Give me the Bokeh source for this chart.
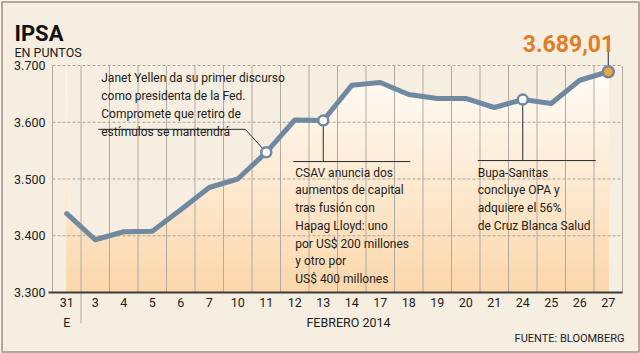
import numpy as np
from bokeh.plotting import figure
from bokeh.models import Range1d, FixedTicker, Label
from bokeh.core.properties import value
from bokeh.embed import file_html
from bokeh.resources import INLINE

# ---------------- data ----------------
DAYS = ["31", "3", "4", "5", "6", "7", "10", "11", "12", "13",
        "14", "17", "18", "19", "20", "21", "24", "25", "26", "27"]
IPSA = [3439, 3393, 3407, 3408, 3446, 3485, 3500, 3547, 3604, 3603,
        3665, 3670, 3649, 3642, 3642, 3626, 3640, 3633, 3674, 3689.01]
Y_TICKS = [3300, 3400, 3500, 3600, 3700]
Y_TICK_LABELS = ["3.300", "3.400", "3.500", "3.600", "3.700"]
EVENT_DAYS = ["11", "13", "24"]
EVENT_TEXTS = [
    "Janet Yellen da su primer discurso\ncomo presidenta de la Fed.\nCompromete que retiro de\nestímulos se mantendrá",
    "CSAV anuncia dos\naumentos de capital\ntras fusión con\nHapag Lloyd: uno\npor US$ 200 millones\ny otro por\nUS$ 400 millones",
    "Bupa-Sanitas\nconcluye OPA y\nadquiere el 56%\nde Cruz Blanca Salud",
]
TITLE = "IPSA"
SUBTITLE = "EN PUNTOS"
PREV_MONTH = "E"
MONTH = "FEBRERO 2014"
SOURCE = "FUENTE: BLOOMBERG"

# ---------------- style / layout ----------------
W, H = 640, 353
L, R, B = 52, 18, 61          # plot-area margins (px) inside the canvas
PLOT_W = W - L - R
PX_PER_UNIT = 227.0 / 400.0   # vertical scale
BG = "#f6eee1"
BORDER = "#b6a797"
GRID_H = "#a9a299"
GRID_V = "#b2aaa0"
LINE = "#6f8aa0"
ORANGE = "#e27c26"
ORANGE_FILL = "#f2a33a"
TXT = "#1c1c1c"
FONT = "Roboto"

n = len(DAYS)
x = np.arange(n)
y = np.array(IPSA, dtype=float)
DX = n / PLOT_W
DY = 1.0 / PX_PER_UNIT
x_start = -0.5 - L * DX
x_end = n - 0.5 + R * DX
y_start = Y_TICKS[0] - B * DY
y_end = Y_TICKS[0] + (H - B) * DY


def cx(px):   # canvas px -> data x
    return x_start + px * DX


def cy(py):   # canvas px -> data y
    return y_end - py * DY


p = figure(width=W, height=H, x_range=Range1d(x_start, x_end),
           y_range=Range1d(y_start, y_end),
           output_backend="svg", toolbar_location=None, title=None,
           min_border=0, background_fill_color=BG,
           border_fill_color=BG, outline_line_color=None)
p.xgrid.visible = False
p.ygrid.visible = False

# y axis (placed at the left edge of the plot area)
ya = p.yaxis[0]
ya.fixed_location = -0.5
ya.ticker = FixedTicker(ticks=Y_TICKS)
ya.major_label_overrides = {t: s for t, s in zip(Y_TICKS, Y_TICK_LABELS)}
ya.axis_line_color = None
ya.major_tick_line_color = None
ya.minor_tick_line_color = None
ya.major_tick_out = 0
ya.major_tick_in = 0
ya.major_label_standoff = 7
ya.major_label_text_font = FONT
ya.major_label_text_font_size = "12.5px"
ya.major_label_text_color = TXT

# x axis (placed at the bottom value)
xa = p.xaxis[0]
xa.fixed_location = Y_TICKS[0]
xa.bounds = (-0.5 - 4 * DX, n - 0.5)
xa.ticker = FixedTicker(ticks=list(range(n)))
xa.major_label_overrides = {i: d for i, d in enumerate(DAYS)}
xa.major_tick_line_color = None
xa.minor_tick_line_color = None
xa.major_tick_out = 0
xa.major_tick_in = 0
xa.axis_line_color = "#3a3a3a"
xa.axis_line_width = 2
xa.major_label_standoff = 5
xa.major_label_text_font = FONT
xa.major_label_text_font_size = "12.5px"
xa.major_label_text_color = TXT

# gradient area under the line
nb = 50
edges = np.linspace(Y_TICKS[0], Y_TICKS[-1], nb + 1)
c0 = np.array([0xfb, 0xd7, 0xab])
c1 = np.array([0xff, 0xfd, 0xf9])
cols = []
for k in range(nb):
    t = (k + 0.5) / nb
    c = (c0 * (1 - t) + c1 * t).round().astype(int)
    cols.append("#%02x%02x%02x" % tuple(c))
p.quad(left=0, right=n - 1, bottom=edges[:-1], top=edges[1:],
       fill_color=cols, line_color=cols, line_width=1)
p.varea(x=x, y1=y, y2=Y_TICKS[-1], fill_color=BG)

# horizontal dashed grid lines
yt = np.array(Y_TICKS[1:], dtype=float)
p.segment(x0=-0.5, y0=yt, x1=n - 0.5, y1=yt, line_color=GRID_H,
          line_width=1, line_dash="3 2")

# vertical separators
xb = np.arange(n + 1) - 0.5
p.segment(x0=xb, y0=Y_TICKS[0], x1=xb, y1=Y_TICKS[-1],
          line_color=GRID_V, line_width=1)
# month boundary mark below the axis (between first and second day)
p.segment(x0=[0.5], y0=[Y_TICKS[0]], x1=[0.5], y1=[Y_TICKS[0] - 31 * DY],
          line_color=GRID_V, line_width=1)

# event callouts
ev_idx = [DAYS.index(d) for d in EVENT_DAYS]
callouts = [
    (-165, -81, [(-168, -23), (-21, -23), (0, 0)]),
    (-28, 45, [(0, 0), (0, 41), (-30, 41), (87, 41)]),
    (-45, 66, [(0, 0), (0, 61), (-45, 61), (73, 61)]),
]
for i, txt, (tdx, tdy, path) in zip(ev_idx, EVENT_TEXTS, callouts):
    if len(path) == 3:
        xs = [x[i] + a * DX for a, b in path]
        ys = [y[i] - b * DY for a, b in path]
        p.line(xs, ys, line_color="#2a2a2a", line_width=1)
    else:
        (a0, b0), (a1, b1), (a2, b2), (a3, b3) = path
        p.segment(x0=[x[i] + a0 * DX, x[i] + a2 * DX],
                  y0=[y[i] - b0 * DY, y[i] - b2 * DY],
                  x1=[x[i] + a1 * DX, x[i] + a3 * DX],
                  y1=[y[i] - b1 * DY, y[i] - b3 * DY],
                  line_color="#2a2a2a", line_width=1)
    p.text(x=[x[i]], y=[y[i]], text=[txt], x_offset=tdx, y_offset=tdy,
           text_font=value(FONT), text_font_size="12px", text_color=TXT,
           text_baseline="top", text_align="left", text_line_height=1.27)

# last value connector and label
last = y[-1]
p.ray(x=[x[-1]], y=[last], length=23, angle=np.pi / 2, length_units="screen",
      line_color="#2a2a2a", line_width=1)
lab = f"{last:,.2f}".replace(",", "#").replace(".", ",").replace("#", ".")
p.text(x=[x[-1]], y=[last], text=[lab], x_offset=6, y_offset=-28,
       text_font=value(FONT), text_font_size="23px", text_font_style="bold",
       text_color=ORANGE, text_align="right", text_baseline="alphabetic")

# main line and markers
p.line(x, y, line_color=LINE, line_width=5, line_join="round", line_cap="round")
p.scatter(x[ev_idx], y[ev_idx], size=10, fill_color="white",
          line_color=LINE, line_width=2.5)
p.scatter([x[-1]], [last], size=11, fill_color=ORANGE_FILL,
          line_color=LINE, line_width=2.5)

# other texts
p.add_layout(Label(x=cx(14), y=cy(33), text=TITLE, text_font=FONT,
                   text_font_size="22px", text_font_style="bold",
                   text_color="#111111", text_baseline="alphabetic"))
p.add_layout(Label(x=cx(14), y=cy(52), text=SUBTITLE, text_font=FONT,
                   text_font_size="12.5px", text_color=TXT,
                   text_baseline="alphabetic"))
p.add_layout(Label(x=0, y=cy(322), text=PREV_MONTH, text_font=FONT,
                   text_font_size="12.5px", text_color=TXT,
                   text_baseline="alphabetic", text_align="center"))
p.add_layout(Label(x=cx(348), y=cy(322), text=MONTH, text_font=FONT,
                   text_font_size="12.5px", text_color=TXT,
                   text_baseline="alphabetic", text_align="center"))
p.add_layout(Label(x=cx(624), y=cy(338), text=SOURCE, text_font=FONT,
                   text_font_size="11px", text_color=TXT,
                   text_baseline="alphabetic", text_align="right"))

# outer frame of the graphic
p.quad(left=[cx(1.5)], right=[cx(W - 1.5)], top=[cy(1.5)], bottom=[cy(H - 1.5)],
       fill_color=None, line_color=BORDER, line_width=2)

open("out.html", "w").write(file_html(p, INLINE))
